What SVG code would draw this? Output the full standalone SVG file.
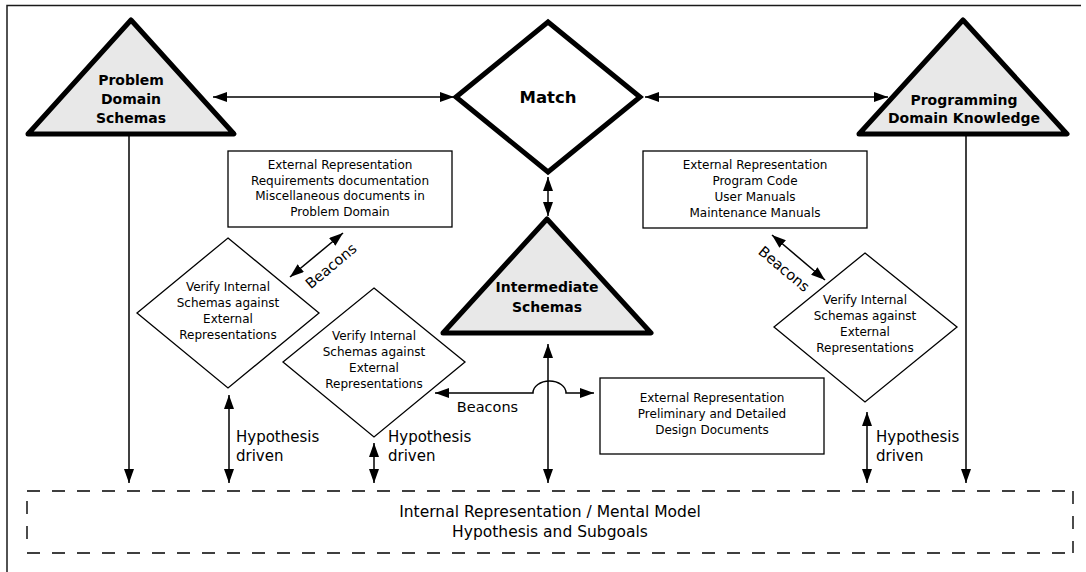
<svg xmlns="http://www.w3.org/2000/svg" width="1086" height="572" viewBox="0 0 1086 572">
  <style>
    .frame { fill: none; stroke: #1a1a1a; stroke-width: 1.5; }
    .schema { fill: #e8e8e8; stroke: #000; stroke-width: 5; stroke-linejoin: round; }
    .match { fill: #fff; stroke: #000; stroke-width: 5; stroke-linejoin: miter; }
    .verify { fill: #fff; stroke: #000; stroke-width: 1.3; }
    .doc { fill: #fff; stroke: #000; stroke-width: 1.3; }
    .dash { fill: none; stroke: #000; stroke-width: 1.4; stroke-dasharray: 13 12; }
    .conn { fill: none; stroke: #000; stroke-width: 1.5; }
    .bold { font-family: "DejaVu Sans", "Liberation Sans", sans-serif; font-weight: bold; font-size: 14px; fill: #000; text-anchor: middle; }
    .small { font-family: "DejaVu Sans", "Liberation Sans", sans-serif; font-size: 12px; fill: #000; text-anchor: middle; }
    .lbl { font-family: "DejaVu Sans", "Liberation Sans", sans-serif; font-size: 15px; fill: #000; }
    .beacon { font-family: "DejaVu Sans", "Liberation Sans", sans-serif; font-size: 14.5px; fill: #000; text-anchor: middle; }
    .mid { font-family: "DejaVu Sans", "Liberation Sans", sans-serif; font-size: 15.5px; fill: #000; text-anchor: middle; }
  </style>
  <defs>
    <marker id="ah" markerUnits="userSpaceOnUse" markerWidth="14" markerHeight="10" refX="14" refY="5" orient="auto-start-reverse">
      <path d="M0,0 L14,5 L0,10 z" fill="#000"/>
    </marker>
  </defs>

  <!-- outer frame (top and left edges) -->
  <path class="frame" d="M7,572 V5.5 H1081"/>

  <!-- connectors -->
  <g id="connectors">
    <line class="conn" x1="213" y1="97" x2="454" y2="97" marker-start="url(#ah)" marker-end="url(#ah)"/>
    <line class="conn" x1="645" y1="97" x2="888" y2="97" marker-start="url(#ah)" marker-end="url(#ah)"/>
    <line class="conn" x1="548" y1="177" x2="548" y2="216" marker-start="url(#ah)" marker-end="url(#ah)"/>
    <line class="conn" x1="129" y1="134" x2="129" y2="483" marker-end="url(#ah)"/>
    <line class="conn" x1="966" y1="134" x2="966" y2="483" marker-end="url(#ah)"/>
    <line class="conn" x1="548" y1="344" x2="548" y2="483" marker-start="url(#ah)" marker-end="url(#ah)"/>
    <path class="conn" d="M435,393 H533 A16.5 12 0 0 1 566,393 H594" marker-start="url(#ah)" marker-end="url(#ah)"/>
    <line class="conn" x1="290" y1="277" x2="343" y2="233" marker-start="url(#ah)" marker-end="url(#ah)"/>
    <line class="conn" x1="772" y1="235" x2="825" y2="280" marker-start="url(#ah)" marker-end="url(#ah)"/>
    <line class="conn" x1="229" y1="395" x2="229" y2="483" marker-start="url(#ah)" marker-end="url(#ah)"/>
    <line class="conn" x1="374" y1="443" x2="374" y2="483" marker-start="url(#ah)" marker-end="url(#ah)"/>
    <line class="conn" x1="867" y1="412" x2="867" y2="483" marker-start="url(#ah)" marker-end="url(#ah)"/>

    <text class="beacon" x="487.5" y="412">Beacons</text>
    <text class="beacon" transform="translate(331,266) rotate(-40)" y="5">Beacons</text>
    <text class="beacon" transform="translate(784,269) rotate(40)" y="5">Beacons</text>
    <text class="lbl" x="236" y="442">Hypothesis</text>
    <text class="lbl" x="236" y="461">driven</text>
    <text class="lbl" x="388" y="442">Hypothesis</text>
    <text class="lbl" x="388" y="461">driven</text>
    <text class="lbl" x="876" y="442">Hypothesis</text>
    <text class="lbl" x="876" y="461">driven</text>
  </g>

  <g id="problem-domain">
    <polygon class="schema" points="131,20 234,134 28,134"/>
    <text class="bold" x="131" y="85">Problem</text>
    <text class="bold" x="131" y="104">Domain</text>
    <text class="bold" x="131" y="123">Schemas</text>
  </g>

  <g id="match">
    <polygon class="match" points="548,22 640,97 548,172 456,97"/>
    <text class="bold" x="548" y="103" style="font-size:16.5px">Match</text>
  </g>

  <g id="programming-domain">
    <polygon class="schema" points="963,20 1067,134 859,134"/>
    <text class="bold" x="964" y="105">Programming</text>
    <text class="bold" x="964" y="123">Domain Knowledge</text>
  </g>

  <g id="intermediate">
    <polygon class="schema" points="547,219 651,333 443,333"/>
    <text class="bold" x="547" y="292">Intermediate</text>
    <text class="bold" x="547" y="312">Schemas</text>
  </g>

  <g id="ext-problem">
    <rect class="doc" x="228" y="151" width="224" height="76"/>
    <text class="small" x="340" y="169">External Representation</text>
    <text class="small" x="340" y="185">Requirements documentation</text>
    <text class="small" x="340" y="200">Miscellaneous documents in</text>
    <text class="small" x="340" y="216">Problem Domain</text>
  </g>

  <g id="ext-program">
    <rect class="doc" x="643" y="151" width="224" height="77"/>
    <text class="small" x="755" y="169">External Representation</text>
    <text class="small" x="755" y="185">Program Code</text>
    <text class="small" x="755" y="201">User Manuals</text>
    <text class="small" x="755" y="217">Maintenance Manuals</text>
  </g>

  <g id="ext-design">
    <rect class="doc" x="600" y="378" width="224" height="76"/>
    <text class="small" x="712" y="402">External Representation</text>
    <text class="small" x="712" y="418">Preliminary and Detailed</text>
    <text class="small" x="712" y="434">Design Documents</text>
  </g>

  <g id="verify-problem">
    <polygon class="verify" points="228,238 319,313 228,388 137,313"/>
    <text class="small" x="228" y="291">Verify Internal</text>
    <text class="small" x="228" y="307">Schemas against</text>
    <text class="small" x="228" y="323">External</text>
    <text class="small" x="228" y="339">Representations</text>
  </g>

  <g id="verify-intermediate">
    <polygon class="verify" points="374,288 465,362 374,437 283,362"/>
    <text class="small" x="374" y="340">Verify Internal</text>
    <text class="small" x="374" y="356">Schemas against</text>
    <text class="small" x="374" y="372">External</text>
    <text class="small" x="374" y="388">Representations</text>
  </g>

  <g id="verify-program">
    <polygon class="verify" points="865,253 957,327 865,402 774,327"/>
    <text class="small" x="865" y="304">Verify Internal</text>
    <text class="small" x="865" y="320">Schemas against</text>
    <text class="small" x="865" y="336">External</text>
    <text class="small" x="865" y="352">Representations</text>
  </g>

  <g id="mental-model">
    <path class="dash" d="M27,491 H1073 M27,553 H1073 M27,501 V541 M1073,491 V553"/>
    <text class="mid" x="550" y="517">Internal Representation / Mental Model</text>
    <text class="mid" x="550" y="537">Hypothesis and Subgoals</text>
  </g>
</svg>
